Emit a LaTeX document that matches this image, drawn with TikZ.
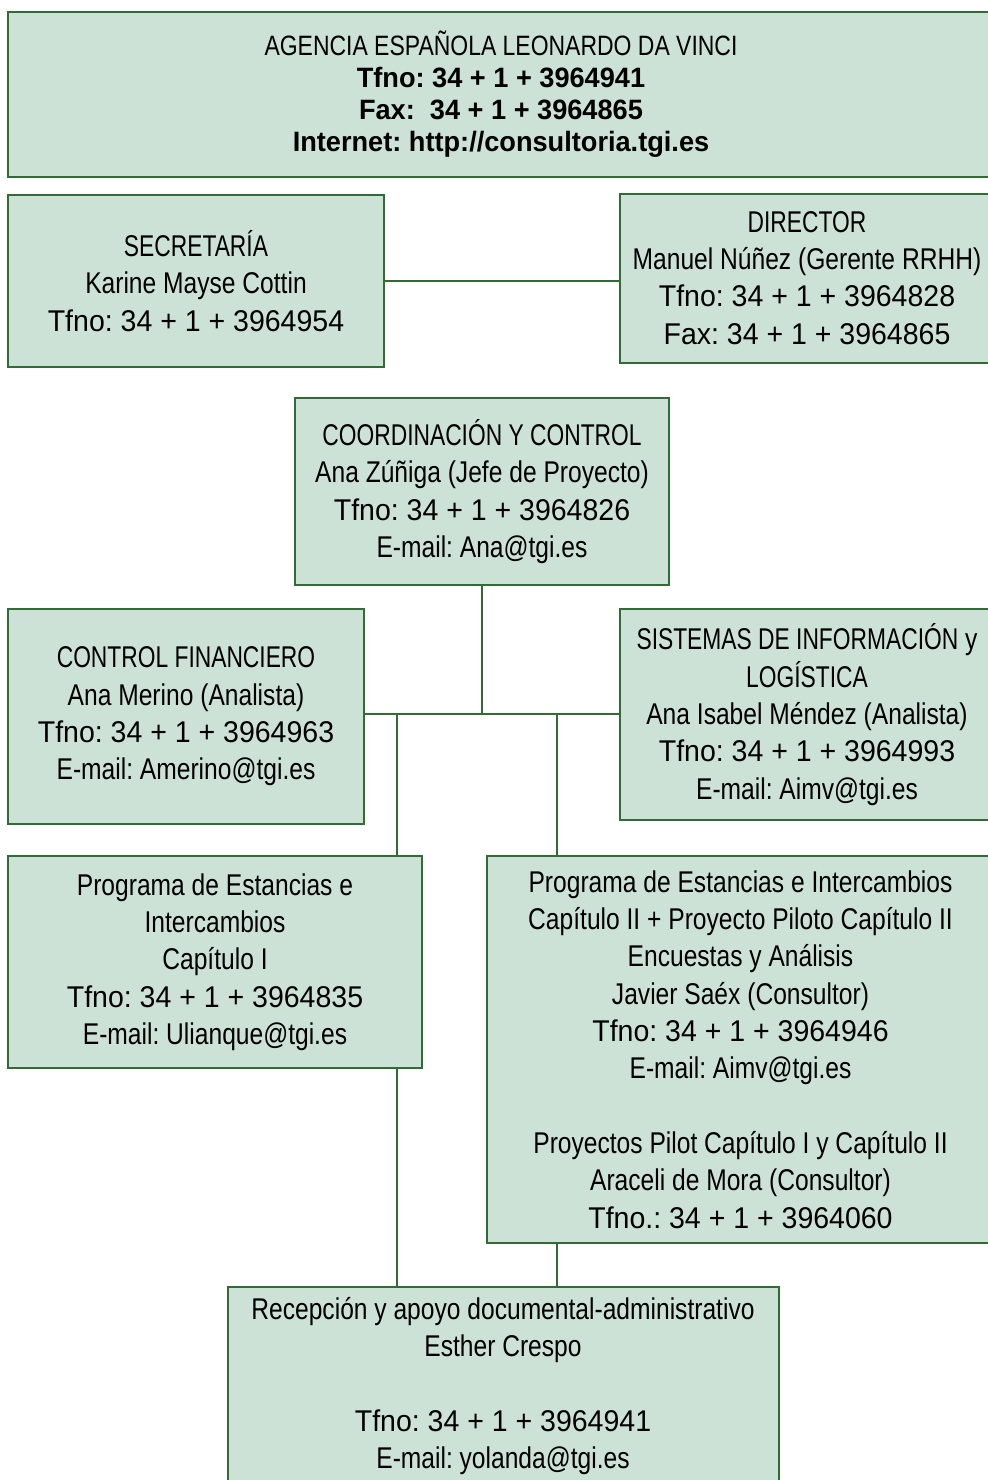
\documentclass[tikz,border=0pt]{standalone}
\usepackage{fontspec}
\setmainfont{Liberation Sans}[FakeStretch=0.82]
\newfontfamily\topbold{Liberation Sans}[FakeStretch=0.97]
\newfontfamily\numfont{Liberation Sans}[FakeStretch=0.95]
\newfontfamily\capfont{Liberation Sans}[FakeStretch=0.76]
\newcommand{\tel}[1]{{\numfont #1}}
\newcommand{\caps}[1]{{\capfont #1}}
\definecolor{boxfill}{RGB}{204,226,215}
\definecolor{boxline}{RGB}{48,108,52}
\frenchspacing
\begin{document}
\begin{tikzpicture}[x=0.5pt,y=-0.5pt,
  orgbox/.style={draw=boxline, line width=1pt, fill=boxfill, inner sep=0pt,
    align=center, text=black, font=\fontsize{15}{18.65}\selectfont},
  link/.style={draw=boxline, line width=0.6pt}]
\useasboundingbox (0,0) rectangle (988,1480);
\fill[white] (0,0) rectangle (988,1480);

\node[orgbox, minimum width=986pt*0.5, minimum height=165pt*0.5,
  font=\fontsize{14}{16}\selectfont] (top) at (501,94.5)
  {AGENCIA ESPAÑOLA LEONARDO DA VINCI\\
   {\topbold\bfseries Tfno: 34 + 1 + 3964941}\\
   {\topbold\bfseries Fax:\ \ 34 + 1 + 3964865}\\
   {\topbold\bfseries Internet: http://consultoria.tgi.es}};

\node[orgbox, minimum width=376pt*0.5, minimum height=172pt*0.5] (sec) at (196,281)
  {\caps{SECRETARÍA}\\Karine Mayse Cottin\\\tel{Tfno: 34 + 1 + 3964954}};

\node[orgbox, minimum width=374pt*0.5, minimum height=169pt*0.5] (dir) at (807,278)
  {\caps{DIRECTOR}\\Manuel Núñez (Gerente RRHH)\\\tel{Tfno: 34 + 1 + 3964828}\\\tel{Fax: 34 + 1 + 3964865}};

\node[orgbox, minimum width=374pt*0.5, minimum height=187pt*0.5] (coord) at (482,491.5)
  {\caps{COORDINACIÓN Y CONTROL}\\Ana Zúñiga (Jefe de Proyecto)\\\tel{Tfno: 34 + 1 + 3964826}\\E-mail: Ana@tgi.es};

\node[orgbox, minimum width=356pt*0.5, minimum height=215pt*0.5] (cf) at (186,716.5)
  {\caps{CONTROL FINANCIERO}\\Ana Merino (Analista)\\\tel{Tfno: 34 + 1 + 3964963}\\E-mail: Amerino@tgi.es};

\node[orgbox, minimum width=374pt*0.5, minimum height=211pt*0.5] (sis) at (807,714.5)
  {\caps{SISTEMAS DE INFORMACIÓN} y\\\caps{LOGÍSTICA}\\Ana Isabel Méndez (Analista)\\\tel{Tfno: 34 + 1 + 3964993}\\E-mail: Aimv@tgi.es};

\node[orgbox, minimum width=414pt*0.5, minimum height=212pt*0.5] (p1) at (215,962)
  {Programa de Estancias e\\Intercambios\\Capítulo I\\\tel{Tfno: 34 + 1 + 3964835}\\E-mail: Ulianque@tgi.es};

\node[orgbox, minimum width=507pt*0.5, minimum height=387pt*0.5] (p2) at (740.5,1049.5)
  {Programa de Estancias e Intercambios\\Capítulo II + Proyecto Piloto Capítulo II\\Encuestas y Análisis\\Javier Saéx (Consultor)\\\tel{Tfno: 34 + 1 + 3964946}\\E-mail: Aimv@tgi.es\\[18.65pt]
   Proyectos Pilot Capítulo I y Capítulo II\\Araceli de Mora (Consultor)\\\tel{Tfno.: 34 + 1 + 3964060}};

\node[orgbox, minimum width=551pt*0.5, minimum height=198pt*0.5] (rec) at (503,1386)
  {Recepción y apoyo documental-administrativo\\Esther Crespo\\[18.65pt]
   \tel{Tfno: 34 + 1 + 3964941}\\E-mail: yolanda@tgi.es};

\coordinate (J) at (482,714);
\coordinate (J1) at (397,714);
\coordinate (J2) at (557,714);

\draw[link] (sec.east) -- (sec.east -| dir.west);
\draw[link] (coord.south) -- (J);
\draw[link] (cf.east |- J) -- (sis.west |- J);
\draw[link] (J1) -- (J1 |- p1.north);
\draw[link] (J2) -- (J2 |- p2.north);
\draw[link] (J1 |- p1.south) -- (J1 |- rec.north);
\draw[link] (J2 |- p2.south) -- (J2 |- rec.north);
\end{tikzpicture}
\end{document}
